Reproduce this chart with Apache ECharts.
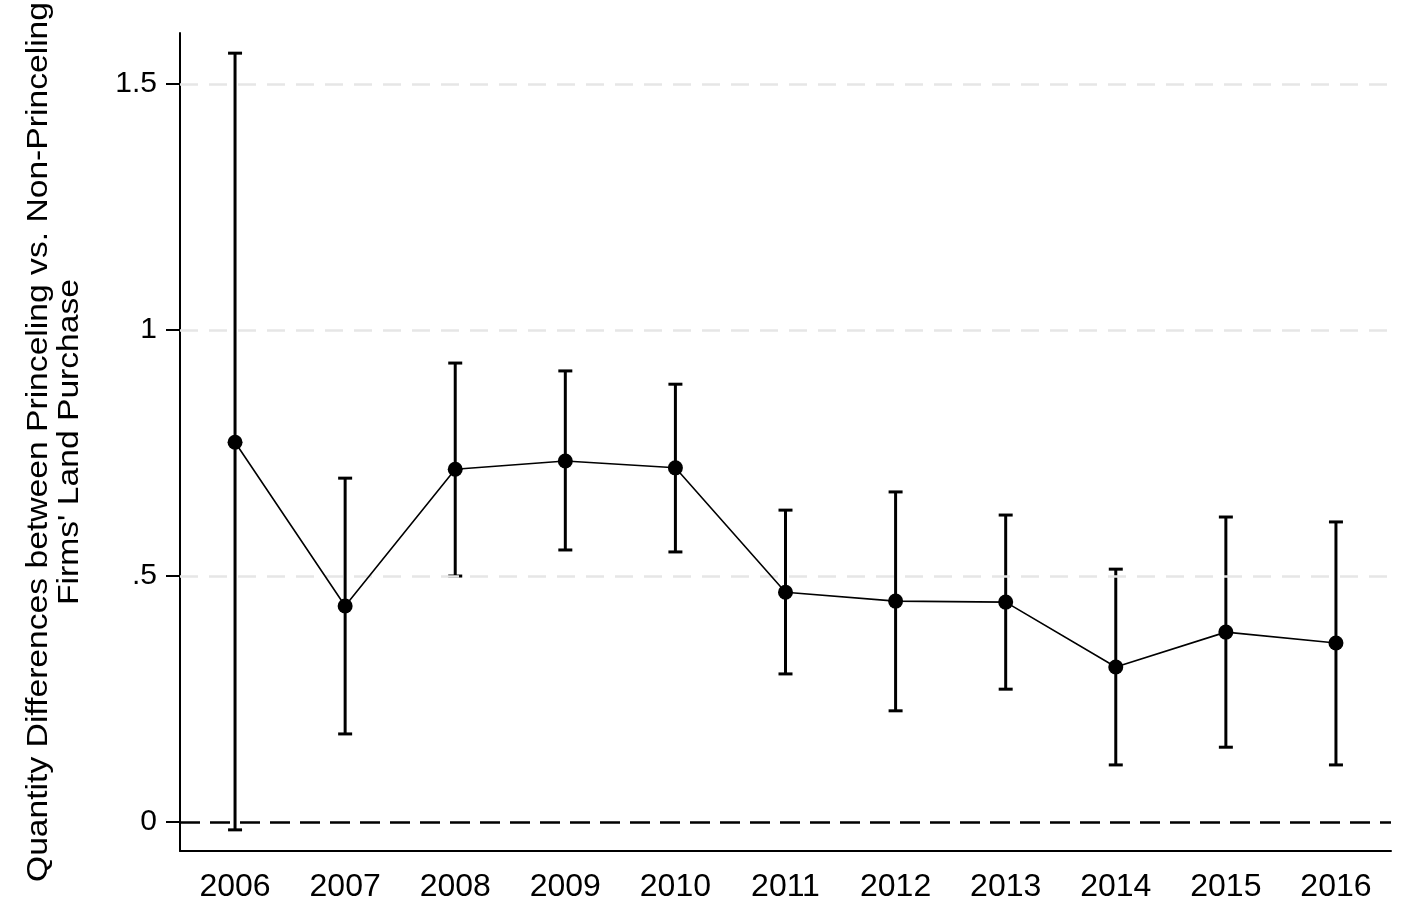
<!DOCTYPE html>
<html>
<head>
<meta charset="utf-8">
<script src="https://cdn.jsdelivr.net/npm/echarts@6/dist/echarts.min.js"></script>
<style>html,body{margin:0;padding:0;background:#fff}#c{width:1408px;height:916px}</style>
</head>
<body>
<div id="c"></div>
<script>
const years = ['2006','2007','2008','2009','2010','2011','2012','2013','2014','2015','2016'];
const estimates = [0.772, 0.439, 0.717, 0.734, 0.720, 0.467, 0.449, 0.447, 0.315, 0.386, 0.364];
const upperCI = [1.563, 0.699, 0.933, 0.917, 0.890, 0.634, 0.671, 0.624, 0.514, 0.620, 0.610];
const lowerCI = [-0.016, 0.179, 0.500, 0.553, 0.549, 0.301, 0.226, 0.270, 0.116, 0.152, 0.116];
const yTicks = [0, 0.5, 1, 1.5];
const yTickLabels = ['0', '.5', '1', '1.5'];
const gridValues = [0.5, 1, 1.5];
const yTitle = "Quantity Differences between Princeling vs. Non-Princeling\nFirms' Land Purchase";

const FONT = '"Liberation Sans", Arial, Helvetica, sans-serif';
const chart = echarts.init(document.getElementById('c'), null, {renderer: 'canvas'});
const ciData = years.map((y, i) => [i, lowerCI[i], upperCI[i]]);

chart.setOption({
  animation: false,
  backgroundColor: '#fff',
  grid: {left: 180, right: 17, top: 33, bottom: 65, containLabel: false},
  graphic: [{
    type: 'text',
    x: 54,
    y: 442,
    rotation: Math.PI / 2,
    scaleX: 1.16,
    style: {
      text: yTitle,
      fill: '#000',
      font: '29px "Liberation Sans", Arial, sans-serif',
      align: 'center',
      verticalAlign: 'middle',
      lineHeight: 31
    }
  }],
  xAxis: {
    type: 'category',
    data: years,
    boundaryGap: true,
    axisLine: {onZero: false, lineStyle: {color: '#000', width: 2}},
    axisTick: {alignWithLabel: true, length: 14, lineStyle: {color: '#000', width: 2}},
    axisLabel: {color: '#000', fontFamily: FONT, fontSize: 32, margin: 20},
    splitLine: {show: false}
  },
  yAxis: {
    type: 'value',
    min: -0.059,
    max: 1.604,
    axisLine: {show: true, onZero: false, lineStyle: {color: '#000', width: 2}},
    axisTick: {show: true, length: 14, customValues: yTicks, lineStyle: {color: '#000', width: 2}},
    axisLabel: {
      color: '#000', fontFamily: FONT, fontSize: 30, margin: 23,
      customValues: yTicks,
      formatter: v => { const k = yTicks.findIndex(t => Math.abs(t - v) < 1e-9); return k >= 0 ? yTickLabels[k] : ''; }
    },
    splitLine: {show: false}
  },
  series: [
    {
      type: 'line',
      data: estimates,
      symbol: 'circle',
      symbolSize: 15,
      itemStyle: {color: '#000'},
      lineStyle: {color: '#000', width: 1.6},
      z: 5,
      markLine: {
        silent: true,
        symbol: 'none',
        label: {show: false},
        data: gridValues.map(v => ({yAxis: v, lineStyle: {color: '#e6e6e6', width: 2.5, type: [18, 11]}}))
          .concat([{yAxis: 0, lineStyle: {color: '#000', width: 2.5, type: [20, 10]}}])
      }
    },
    {
      type: 'custom',
      data: ciData,
      z: 4,
      renderItem: function (params, api) {
        const x = api.value(0);
        const lo = api.coord([x, api.value(1)]);
        const hi = api.coord([x, api.value(2)]);
        const hw = 7;
        const style = {stroke: '#000', lineWidth: 3};
        return {
          type: 'group',
          children: [
            {type: 'line', shape: {x1: lo[0], y1: lo[1], x2: hi[0], y2: hi[1]}, style},
            {type: 'line', shape: {x1: hi[0] - hw, y1: hi[1], x2: hi[0] + hw, y2: hi[1]}, style},
            {type: 'line', shape: {x1: lo[0] - hw, y1: lo[1], x2: lo[0] + hw, y2: lo[1]}, style}
          ]
        };
      }
    }
  ]
});
</script>
</body>
</html>
